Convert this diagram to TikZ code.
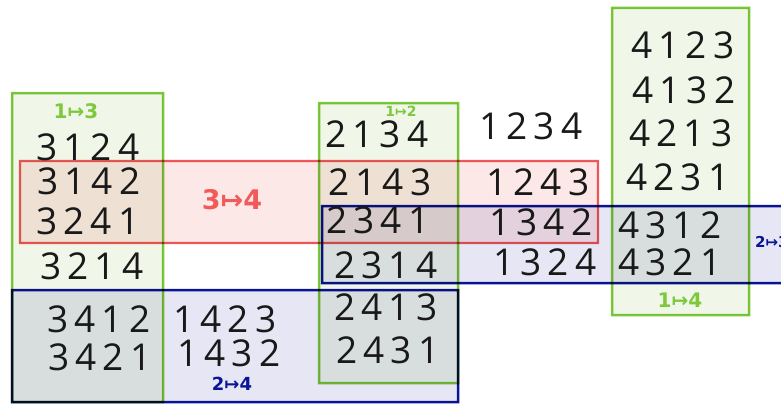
\documentclass[tikz,border=0pt]{standalone}
\usepackage{fontspec}
\setmainfont{Open Sans}
\newfontfamily\hand[LetterSpace=16]{Open Sans}
\newfontfamily\sym{DejaVu Sans}
\definecolor{gline}{RGB}{125,200,60}
\definecolor{gfill}{RGB}{240,247,232}
\definecolor{rline}{RGB}{240,90,90}
\definecolor{rfill}{RGB}{253,232,232}
\definecolor{bline}{RGB}{10,20,150}
\definecolor{bfill}{RGB}{230,230,245}
\tikzset{
  box/.style={rectangle, line width=2.5pt, inner sep=0pt},
  gbox/.style={box, draw=gline, fill=gfill},
  rbox/.style={box, draw=rline, fill=rfill, line width=2.2pt},
  bbox/.style={box, draw=bline, fill=bfill},
  perm/.style={inner sep=0pt, text=black!90, font={\hand\fontsize{37}{40}\selectfont}},
  lab/.style={inner sep=0pt, font={\sym\bfseries\fontsize{#1}{#1}\selectfont}},
  glab/.style={lab=#1, text=gline},
  rlab/.style={lab=#1, text=rline},
  blab/.style={lab=#1, text=bline},
}
\begin{document}
\begin{tikzpicture}[x=1pt,y=-1pt]
\useasboundingbox (0,0) rectangle (781,404);
\begin{scope}[blend group=multiply]
  \node[gbox, minimum width=151pt, minimum height=309pt] (g1) at (87.5,247.5) {};
  \node[gbox, minimum width=139pt, minimum height=280pt] (g2) at (388.5,243) {};
  \node[gbox, minimum width=137pt, minimum height=307pt] (g3) at (680.5,161.5) {};
  \node[rbox, minimum width=578pt, minimum height=82pt] (r1) at (309,202) {};
  \node[bbox, minimum width=446pt, minimum height=112pt] (b1) at (235,346) {};
  \node[bbox, minimum width=478pt, minimum height=77pt] (b2) at (561,244.5) {};
\end{scope}
% labels
\node[glab=20] (l13) at (76,111) {1↦3};
\node[glab=14] (l12) at (401,111) {1↦2};
\node[rlab=27] (l34) at (232,200) {3↦4};
\node[blab=18] (l24) at (232,384) {2↦4};
\node[glab=20] (l14) at (680,300) {1↦4};
\node[blab=15, anchor=west] (l23) at (755,242) {2↦3};
% left column
\node[perm] (p3124) at (88,147) {3124};
\node[perm] (p3142) at (89,181) {3142};
\node[perm] (p3241) at (88,221) {3241};
\node[perm] (p3214) at (92,266) {3214};
\node[perm] (p3412) at (99,319) {3412};
\node[perm] (p3421) at (100,357) {3421};
\node[perm] (p1423) at (225,319) {1423};
\node[perm] (p1432) at (229,353) {1432};
% middle column
\node[perm] (p2134) at (377,134) {2134};
\node[perm] (p2143) at (380,182) {2143};
\node[perm] (p2341) at (378,220) {2341};
\node[perm] (p2314) at (386,265) {2314};
\node[perm] (p2413) at (386,307) {2413};
\node[perm] (p2431) at (388,350) {2431};
\node[perm] (p1234) at (531,126) {1234};
\node[perm] (p1243) at (538,182) {1243};
\node[perm] (p1342) at (541,222) {1342};
\node[perm] (p1324) at (545,262) {1324};
% right column
\node[perm] (p4123) at (683,45) {4123};
\node[perm] (p4132) at (684,90) {4132};
\node[perm] (p4213) at (681,133) {4213};
\node[perm] (p4231) at (678,177) {4231};
\node[perm] (p4312) at (670,225) {4312};
\node[perm] (p4321) at (670,262) {4321};
\end{tikzpicture}
\end{document}
